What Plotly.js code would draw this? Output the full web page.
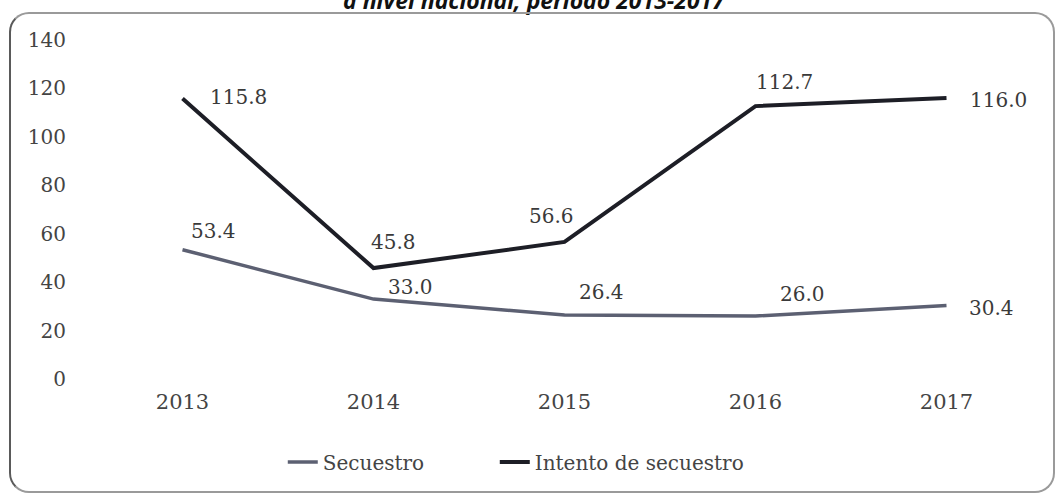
<!DOCTYPE html>
<html>
<head>
<meta charset="utf-8">
<script src="https://cdn.plot.ly/plotly-3.0.1.min.js"></script>
<style>
html,body{margin:0;padding:0;background:#fff;}
#wrap{position:relative;width:1055px;height:493px;overflow:hidden;}
#chart{width:1055px;height:493px;}
#frame{position:absolute;left:9px;top:12px;width:1042px;height:477px;border:2px solid #9a9a9a;border-left-color:#5a5a5a;border-radius:20px;pointer-events:none;}
</style>
</head>
<body>
<div id="wrap"><div id="chart"></div><div id="frame"></div></div>
<script>
const years = ['2013','2014','2015','2016','2017'];
const secuestro = [53.4, 33.0, 26.4, 26.0, 30.4];
const intento = [115.8, 45.8, 56.6, 112.7, 116.0];
const titleText = 'a nivel nacional, periodo 2013-2017';

const serif = 'DejaVu Serif, Liberation Serif, serif';
const labelFont = {family: serif, size: 20, color: '#3a3a3a'};

// label offsets in pixels (styling only)
const secOff = [[31,-19],[37,-12],[37,-23],[47,-22],[45,3]];
const intOff = [[56,-2],[20,-26],[-13,-26],[29,-24],[52,2]];

const traces = [
  {
    x: years, y: secuestro, name: 'Secuestro', type: 'scatter', mode: 'lines',
    line: {color: '#5c6072', width: 3.5}, legend: 'legend'
  },
  {
    x: years, y: intento, name: 'Intento de secuestro', type: 'scatter', mode: 'lines',
    line: {color: '#1d1e26', width: 4}, legend: 'legend2'
  }
];

const annotations = [];
years.forEach((yr, i) => {
  annotations.push({x: i, y: secuestro[i], xref: 'x', yref: 'y', text: secuestro[i].toFixed(1),
    showarrow: false, xshift: secOff[i][0], yshift: -secOff[i][1], font: labelFont});
  annotations.push({x: i, y: intento[i], xref: 'x', yref: 'y', text: intento[i].toFixed(1),
    showarrow: false, xshift: intOff[i][0], yshift: -intOff[i][1], font: labelFont});
});
annotations.push({
  text: titleText, xref: 'paper', yref: 'paper', x: 0.469, y: 1.118, xanchor: 'center', yanchor: 'middle',
  showarrow: false, font: {family: 'Open Sans, sans-serif', size: 23, color: '#111', weight: 'bold', style: 'italic'}
});

const legendFont = {family: serif, size: 20, color: '#444'};
const layout = {
  width: 1055, height: 493,
  margin: {l: 87, r: 13, t: 40, b: 110},
  paper_bgcolor: '#fff', plot_bgcolor: '#fff',
  showlegend: true,
  legend: {orientation: 'h', x: 0.205, xanchor: 'left', y: -0.245, yanchor: 'middle', font: legendFont},
  legend2: {orientation: 'h', x: 0.427, xanchor: 'left', y: -0.245, yanchor: 'middle', font: legendFont},
  xaxis: {type: 'category', range: [-0.5, 4.5], showgrid: false, zeroline: false, showline: false,
          tickfont: {family: serif, size: 21, color: '#444'}, ticklabelstandoff: 8},
  yaxis: {range: [0, 140], dtick: 20, showgrid: false, zeroline: false, showline: false,
          tickfont: {family: serif, size: 20, color: '#444'}, ticklabelstandoff: 20},
  annotations: annotations
};

Plotly.newPlot('chart', traces, layout, {displayModeBar: false, staticPlot: true});
</script>
</body>
</html>
